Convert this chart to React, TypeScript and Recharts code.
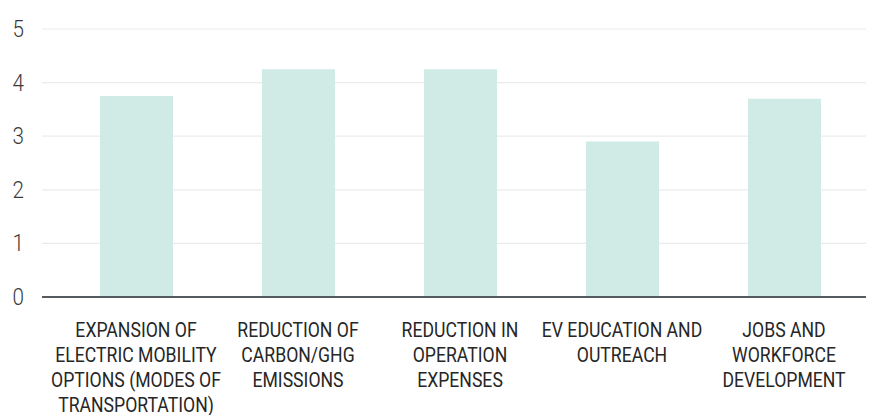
import { BarChart, Bar, XAxis, YAxis, CartesianGrid } from 'recharts';

// Category labels, already broken into the lines shown under each bar
const categories = [
  'EXPANSION OF\nELECTRIC MOBILITY\nOPTIONS (MODES OF\nTRANSPORTATION)',
  'REDUCTION OF\nCARBON/GHG\nEMISSIONS',
  'REDUCTION IN\nOPERATION\nEXPENSES',
  'EV EDUCATION AND\nOUTREACH',
  'JOBS AND\nWORKFORCE\nDEVELOPMENT',
];
const scores = [3.75, 4.25, 4.25, 2.9, 3.7];
const yTicks = [0, 1, 2, 3, 4, 5];

// no condensed face installed, so squeeze Roboto horizontally
const FONT = "Roboto, 'Liberation Sans', sans-serif";

const data = categories.map((name, i) => ({ name, score: scores[i] }));

// Multi-line category tick
function CategoryTick({ x, y, payload }: any) {
  const lines = String(payload.value).split('\n');
  return (
    <g transform={`translate(${x},${y}) scale(0.84,1)`}>
      <text x={0} y={0} textAnchor="middle" fill="#262626" fontSize={21} fontWeight={400} fontFamily={FONT}>
        {lines.map((line, i) => (
          <tspan key={i} x={0} dy={i === 0 ? 32 : 25}>
            {line}
          </tspan>
        ))}
      </text>
    </g>
  );
}

function ValueTick({ x, y, payload }: any) {
  return (
    <g transform={`translate(${x},${y}) scale(0.86,1)`}>
      <text x={0} y={0} dy={8} textAnchor="end" fill="#3a3a3a" fontSize={24} fontWeight={300} fontFamily={FONT}>
        {payload.value}
      </text>
    </g>
  );
}

export default function App() {
  return (
    <div style={{ position: 'absolute', left: 0, top: 0, background: '#fff' }}>
      <BarChart
        width={869}
        height={415}
        data={data}
        margin={{ top: 29, right: 3, bottom: 0, left: 0 }}
      >
        <CartesianGrid vertical={false} stroke="#ebebeb" strokeWidth={1.2} />
        <XAxis
          dataKey="name"
          height={118}
          interval={0}
          tickLine={false}
          axisLine={{ stroke: '#555a60', strokeWidth: 2 }}
          padding={{ left: 13, right: 1 }}
          tick={<CategoryTick />}
        />
        <YAxis
          width={42}
          domain={[0, 5]}
          ticks={yTicks}
          interval={0}
          tickLine={false}
          axisLine={false}
          tickMargin={12}
          tick={<ValueTick />}
        />
        <Bar dataKey="score" fill="#d0eae6" barSize={73} isAnimationActive={false} />
      </BarChart>
    </div>
  );
}
